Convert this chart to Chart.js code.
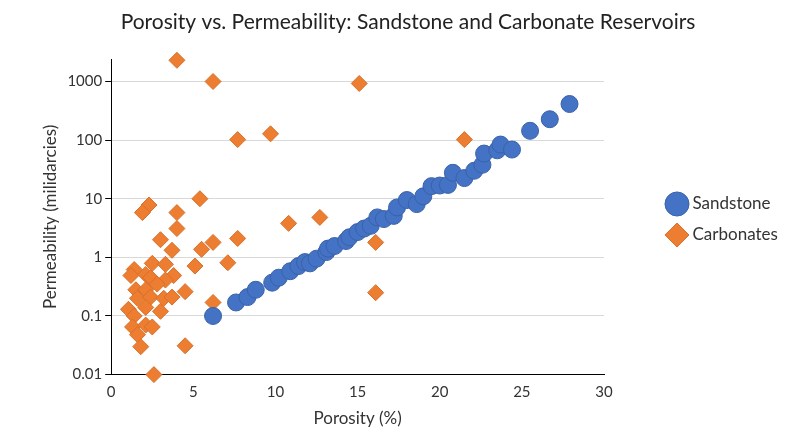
<!DOCTYPE html>
<html><head><meta charset="utf-8">
<script src="https://cdn.jsdelivr.net/npm/chart.js@4/dist/chart.umd.min.js"></script>
<style>html,body{margin:0;background:#fff}#w{width:800px;height:447px}</style>
</head><body><div id="w"><canvas id="c"></canvas></div>
<script>
const sandX=[6.2,7.6,8.3,8.8,9.8,10.2,10.9,11.4,11.8,12.1,12.5,13.1,13.2,13.6,14.3,14.5,15.0,15.4,15.8,16.2,16.6,17.2,17.4,18.0,18.6,19.0,19.5,20.0,20.5,20.8,21.5,22.1,22.6,22.7,23.5,23.7,24.4,25.5,26.7,27.9];
const sandY=[0.1,0.17,0.21,0.28,0.37,0.45,0.58,0.71,0.83,0.79,0.95,1.23,1.41,1.56,1.9,2.2,2.7,3.1,3.45,4.8,4.5,5.1,7.1,9.5,8.1,11,16.4,16.8,17.2,27.7,22.5,30,38,59,67,84,69,144,227,413];
const carbX=[4.0,6.2,15.1,7.7,9.7,21.5,5.4,2.3,1.9,4.0,4.0,10.8,12.7,16.1,16.1,6.2,3.0,3.7,5.5,6.2,7.7,7.1,5.1,2.5,3.3,1.4,1.2,2.1,2.4,3.8,3.3,2.8,1.5,2.1,4.5,1.6,2.4,3.2,3.7,1.05,2.1,3.0,1.4,1.3,2.1,2.5,1.6,1.8,4.5,2.6];
const carbY=[2300,1000,925,102,128,102,10,7.8,5.8,5.8,3.1,3.8,4.8,1.8,0.25,0.17,2.0,1.32,1.37,1.8,2.1,0.81,0.71,0.79,0.76,0.62,0.49,0.51,0.45,0.49,0.41,0.35,0.28,0.28,0.26,0.2,0.21,0.2,0.21,0.13,0.14,0.12,0.1,0.065,0.07,0.065,0.048,0.03,0.031,0.01];
const yTicks=[0.01,0.1,1,10,100,1000];
const xTicks=[0,5,10,15,20,25,30];
const pts=(xs,ys)=>xs.map((x,i)=>({x,y:ys[i]}));
Chart.defaults.font.family="Lato, 'Open Sans', sans-serif";
Chart.defaults.color="#404040";
new Chart(document.getElementById('c'),{
type:'scatter',
data:{datasets:[
{label:'Sandstone',data:pts(sandX,sandY),pointStyle:'circle',pointRadius:8.5,backgroundColor:'#4472C4',borderColor:'#3A62A8',borderWidth:1,clip:false},
{label:'Carbonates',data:pts(carbX,carbY),pointStyle:'rectRot',pointRadius:8,backgroundColor:'#ED7D31',borderColor:'#D8702A',borderWidth:1,clip:false}
]},
options:{responsive:true,maintainAspectRatio:false,animation:false,
layout:{padding:{left:36,right:20,top:6,bottom:14}},
plugins:{
title:{display:true,text:'Porosity vs. Permeability: Sandstone and Carbonate Reservoirs',font:{size:21,weight:'normal'},color:'#222',padding:{top:4,bottom:24}},
legend:{position:'right',labels:{usePointStyle:true,font:{size:17},color:'#333',padding:14,boxWidth:14}},
tooltip:{enabled:false}},
scales:{
x:{type:'linear',min:0,max:30,afterBuildTicks:a=>{a.ticks=xTicks.map(v=>({value:v}))},
grid:{display:false,drawTicks:true,tickLength:6,color:'#000'},border:{color:'#000'},
ticks:{font:{size:15},color:'#333'},title:{display:true,text:'Porosity (%)',font:{size:17},color:'#333'}},
y:{type:'logarithmic',min:0.01,max:2400,afterBuildTicks:a=>{a.ticks=yTicks.map(v=>({value:v}))},
grid:{color:'#d9d9d9',tickLength:6,tickColor:'#000'},border:{color:'#000'},
ticks:{font:{size:15},color:'#333',callback:v=>String(v)},title:{display:true,text:'Permeability (milidarcies)',font:{size:17},color:'#333'}},
pad:{type:'linear',position:'right',display:true,grid:{display:false,drawTicks:false},border:{display:false},ticks:{display:false},afterFit:s=>{s.width=52}}
}}});
</script></body></html>
